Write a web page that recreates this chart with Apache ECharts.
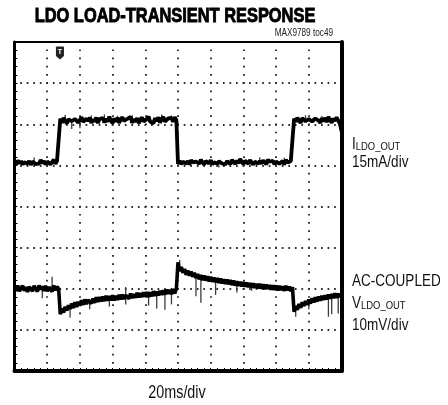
<!DOCTYPE html>
<html>
<head>
<meta charset="utf-8">
<script src="https://cdn.jsdelivr.net/npm/echarts@6/dist/echarts.min.js"></script>
<style>
  html, body { margin: 0; padding: 0; background: #fff; }
  #chart { width: 448px; height: 405px; }
</style>
</head>
<body>
<div id="chart"></div>
<script>
// Scope capture: 20 ms/div horizontally, 10 x 8 divisions.
const TIME_MS_PER_DIV = 20;
const TIME_SPAN_MS = 200;
const SAMPLE_MS = 1;
const TRIGGER_MS = 27.8;

// LDO output current, mA (one sample per millisecond), 15 mA/div.
const iLdoOut = [
  0.5,-0.6,0.8,-0.3,0.6,-0.7,0.2,0.9,-0.4,0.6,
  -0.8,0.4,0.7,-0.5,0.2,-0.4,1.0,-0.2,0.6,-0.7,
  0.4,0.9,-0.6,0.2,1.1,-0.4,0.6,0.2,16.0,14.5,
  16.3,15.3,14.3,15.8,16.5,15.1,14.4,15.9,16.2,14.6,
  15.6,16.6,14.9,14.3,16.0,15.2,16.4,14.5,15.8,15.0,
  16.5,14.4,15.9,15.3,16.3,14.6,16.0,14.9,16.8,15.2,
  14.4,16.1,15.0,16.4,14.5,15.8,16.6,15.2,14.6,16.0,
  15.4,16.7,14.5,15.9,14.9,16.3,14.4,15.7,16.5,15.0,
  14.5,16.0,16.8,14.9,15.6,14.4,16.2,15.2,16.5,14.6,
  15.9,16.7,15.0,14.5,16.1,15.4,16.3,14.9,16.6,15.6,
  -0.5,0.7,-0.6,0.3,1.0,-0.3,0.6,-0.7,0.9,0.1,
  -0.6,0.4,0.8,-0.4,1.1,0.1,-0.7,0.6,0.3,-0.3,
  0.9,-0.6,0.2,0.7,-0.4,0.5,1.2,-0.3,0.4,-0.7,
  0.6,0.1,-0.6,1.0,0.3,-0.5,0.7,-0.2,1.3,0.3,
  -0.6,0.7,0.1,-0.4,0.9,0.4,-0.7,0.3,1.0,-0.3,
  0.6,-0.4,0.8,0.1,-0.6,1.1,0.3,-0.3,0.7,-0.6,
  0.4,0.9,-0.4,0.2,0.6,-0.7,1.0,0.1,-0.4,0.5,
  0.2,16.0,14.9,16.4,15.3,14.5,16.2,16.7,15.1,14.6,
  15.9,16.4,15.0,14.4,16.1,16.6,15.3,14.5,16.2,15.1,
  16.3,14.8,16.7,15.5,14.5,16.1,15.2,16.5,15.3,14.2,
  11.5
];

// AC-coupled LDO output voltage, mV (one sample per millisecond), 10 mV/div.
const vLdoOut = [
  0.6,-0.5,0.8,-0.6,0.2,0.7,-0.5,0.4,-0.8,0.5,
  0.2,-0.6,0.7,0.3,-0.7,0.8,-0.2,0.6,-0.5,0.7,
  -0.6,0.4,0.2,-0.7,0.8,-0.4,0.5,0.0,-6.2,-4.8,
  -5.8,-4.4,-5.3,-4.0,-4.9,-3.6,-4.7,-3.3,-4.4,-3.2,
  -4.1,-2.8,-3.9,-2.6,-3.7,-2.7,-2.3,-3.6,-2.4,-3.4,
  -2.1,-3.2,-2.0,-3.1,-1.9,-3.0,-1.7,-2.9,-1.8,-2.8,
  -1.6,-2.8,-1.7,-2.7,-1.5,-2.6,-1.4,-2.5,-1.6,-1.3,
  -2.4,-1.2,-2.3,-1.3,-2.2,-1.0,-2.1,-1.1,-2.0,-0.9,
  -1.9,-0.8,-2.0,-0.9,-1.8,-0.6,-1.7,-0.7,-1.6,-0.5,
  -1.5,-0.4,-1.4,-0.2,-1.2,-0.3,-1.3,-0.1,-1.1,0.0,
  6.4,4.3,5.3,3.9,4.8,3.4,4.4,3.2,4.2,2.9,
  3.9,2.6,3.6,2.3,3.3,2.1,3.2,2.0,3.0,1.8,
  2.9,1.7,2.7,1.6,2.6,1.4,2.5,1.3,2.3,1.2,
  2.2,1.1,2.1,0.9,2.0,0.8,1.8,0.7,1.7,0.6,
  1.6,0.5,1.5,0.4,1.4,0.3,1.3,0.2,1.2,0.1,
  1.2,0.0,1.1,-0.1,1.0,0.0,0.9,-0.2,0.8,-0.3,
  0.8,-0.4,0.7,-0.3,0.6,-0.5,0.7,-0.4,0.5,-0.6,
  0.4,-5.6,-4.2,-5.1,-3.7,-4.6,-3.3,-4.2,-3.0,-3.9,
  -2.6,-3.6,-2.3,-3.3,-2.1,-3.1,-1.9,-2.9,-1.7,-2.7,
  -1.6,-2.6,-1.4,-2.4,-1.3,-2.3,-1.1,-2.2,-1.2,-2.0,
  -1.3
];

// Short glitches on each trace: [time ms, low, high].
const iGlitches = [
  [31, 15.0, 17.4], [35, 12.3, 15.5], [40, 12.5, 15.2], [47, 15.0, 17.2],
  [55, 15.0, 17.6], [63, 15.0, 17.1], [72, 14.9, 17.3], [81, 15.0, 17.0],
  [90, 15.0, 17.6], [96, 15.0, 17.2], [12, 0.0, 1.9], [125, -1.8, 0.5],
  [150, 0.0, 2.0], [165, 0.0, 1.8], [178, 15.0, 17.3], [188, 15.0, 17.0]
];
const vGlitches = [
  [17, -2.3, 0.3], [23, -0.2, 2.9], [34, -7.0, -4.3], [46, -5.0, -2.8],
  [58, -4.3, -2.2], [68, -3.8, 0.4], [82, -4.1, -1.3], [87, -4.8, -1.0],
  [92, -5.1, -0.8], [96, -3.8, -0.5], [101, 4.6, 7.0], [111, -1.8, 3.4],
  [114, -3.4, 2.8], [123, -1.5, 2.3], [136, -0.9, 1.5], [145, -0.5, 1.4],
  [172, -6.8, -4.6], [180, -5.0, -2.9], [192, -6.8, -2.3], [194, -6.2, -1.6],
  [198, -6.0, -1.9]
];

// Vertical placement of each channel on the 8-division screen.
const I_AXIS = [-76, 44];   // 15 mA/div
const V_AXIS = [-20, 60];   // 10 mV/div
const DIVS_Y = [-4, 4];

const toPairs = arr => arr.map((v, i) => [i * SAMPLE_MS, v]);

// Condensed lettering: regular sans squeezed horizontally.
const SANS = '"Liberation Sans", Arial, sans-serif';
const SQUEEZE = 0.82;
const DOTS = '#2e2e2e';

function glitchSeries(data, yAxisIndex) {
  return {
    type: 'custom', xAxisIndex: 0, yAxisIndex, silent: true, z: 3,
    data,
    encode: { x: 0, y: [1, 2] },
    renderItem: (params, api) => {
      const a = api.coord([api.value(0), api.value(1)]);
      const b = api.coord([api.value(0), api.value(2)]);
      return { type: 'line', shape: { x1: a[0], y1: a[1], x2: b[0], y2: b[1] },
               style: { stroke: '#3c3c3c', lineWidth: 1.3 } };
    }
  };
}

function label(x, y, style, align) {
  return {
    type: 'text', x, y, scaleX: SQUEEZE, silent: true,
    style: Object.assign({ x: 0, y: 0, align: align || 'left', verticalAlign: 'top' }, style)
  };
}

const chart = echarts.init(document.getElementById('chart'), null, { renderer: 'canvas' });

chart.setOption({
  animation: false,
  backgroundColor: '#fff',
  grid: { left: 14.5, right: 106.5, top: 42, bottom: 34, containLabel: false },
  xAxis: [{
    type: 'value', min: 0, max: TIME_SPAN_MS, interval: TIME_MS_PER_DIV, position: 'bottom',
    axisLine: { show: true, onZero: false, lineStyle: { color: '#000', width: 4 } },
    axisTick: { show: true, inside: true, length: 3, lineStyle: { color: '#000', width: 1 } },
    minorTick: { show: true, splitNumber: 5, length: 3, lineStyle: { color: '#000', width: 1 } },
    axisLabel: { show: false },
    splitLine: { show: true, lineStyle: { color: DOTS, width: 1.9, type: [1.7, 6.525], dashOffset: 0.85 } }
  }, {
    type: 'value', min: 0, max: TIME_SPAN_MS, position: 'top',
    axisLine: { show: true, onZero: false, lineStyle: { color: '#000', width: 2 } },
    axisTick: { show: false }, axisLabel: { show: false }, splitLine: { show: false }
  }],
  yAxis: [{
    // current channel
    type: 'value', min: I_AXIS[0], max: I_AXIS[1], show: false
  }, {
    // voltage channel
    type: 'value', min: V_AXIS[0], max: V_AXIS[1], show: false
  }, {
    // screen divisions (graticule, left frame)
    type: 'value', min: DIVS_Y[0], max: DIVS_Y[1], interval: 1, position: 'left',
    axisLine: { show: true, onZero: false, lineStyle: { color: '#000', width: 3 } },
    axisTick: { show: true, inside: true, length: 3, lineStyle: { color: '#000', width: 1 } },
    minorTick: { show: true, splitNumber: 5, length: 3, lineStyle: { color: '#000', width: 1 } },
    axisLabel: { show: false },
    splitLine: { show: true, lineStyle: { color: DOTS, width: 1.9, type: [1.7, 4.84], dashOffset: 0.85 } }
  }, {
    type: 'value', min: DIVS_Y[0], max: DIVS_Y[1], position: 'right',
    axisLine: { show: true, onZero: false, lineStyle: { color: '#000', width: 4 } },
    axisTick: { show: false }, axisLabel: { show: false }, splitLine: { show: false }
  }],
  series: [{
    name: 'I LDO_OUT', type: 'line', xAxisIndex: 0, yAxisIndex: 0,
    data: toPairs(iLdoOut), showSymbol: false, silent: true, z: 4,
    lineStyle: { color: '#000', width: 3.8, join: 'bevel' },
    markPoint: {
      silent: true,
      symbol: 'path://M1,0 L9,0 Q10,0 10,1 L10,11 L5,15 L0,11 L0,1 Q0,0 1,0 Z',
      symbolSize: [8, 13],
      itemStyle: { color: '#222' },
      label: { show: true, formatter: 'T', color: '#fff', fontSize: 7, fontWeight: 'bold', offset: [0, -1] },
      data: [{ coord: [TRIGGER_MS, 40] }]
    }
  }, {
    name: 'V LDO_OUT', type: 'line', xAxisIndex: 0, yAxisIndex: 1,
    data: toPairs(vLdoOut), showSymbol: false, silent: true, z: 4,
    lineStyle: { color: '#000', width: 3.6, join: 'bevel' }
  },
  glitchSeries(iGlitches, 0),
  glitchSeries(vGlitches, 1)
  ],
  graphic: [
    label(175, 6, { text: 'LDO LOAD-TRANSIENT RESPONSE', font: 'bold 20px ' + SANS, fill: '#000',
                    stroke: '#000', lineWidth: 0.9 }, 'center'),
    label(333, 28, { text: 'MAX9789 toc49', font: '10px ' + SANS, fill: '#222' }, 'right'),
    label(352, 135, {
      text: '{b|I}{s|LDO_OUT}\n{b|15mA/div}',
      rich: {
        b: { fontFamily: SANS, fontSize: 16.5, fill: '#111', lineHeight: 18 },
        s: { fontFamily: SANS, fontSize: 11.5, fill: '#111', lineHeight: 18, padding: [6, 0, 0, 0] }
      }
    }),
    label(352, 270, {
      text: '{b|AC-COUPLED}\n{b|V}{s|LDO_OUT}\n{b|10mV/div}',
      rich: {
        b: { fontFamily: SANS, fontSize: 16.5, fill: '#111', lineHeight: 22 },
        s: { fontFamily: SANS, fontSize: 11.5, fill: '#111', lineHeight: 22, padding: [6, 0, 0, 0] }
      }
    }),
    label(177, 384, { text: '20ms/div', font: '17.5px ' + SANS, fill: '#111' }, 'center')
  ]
});
</script>
</body>
</html>
